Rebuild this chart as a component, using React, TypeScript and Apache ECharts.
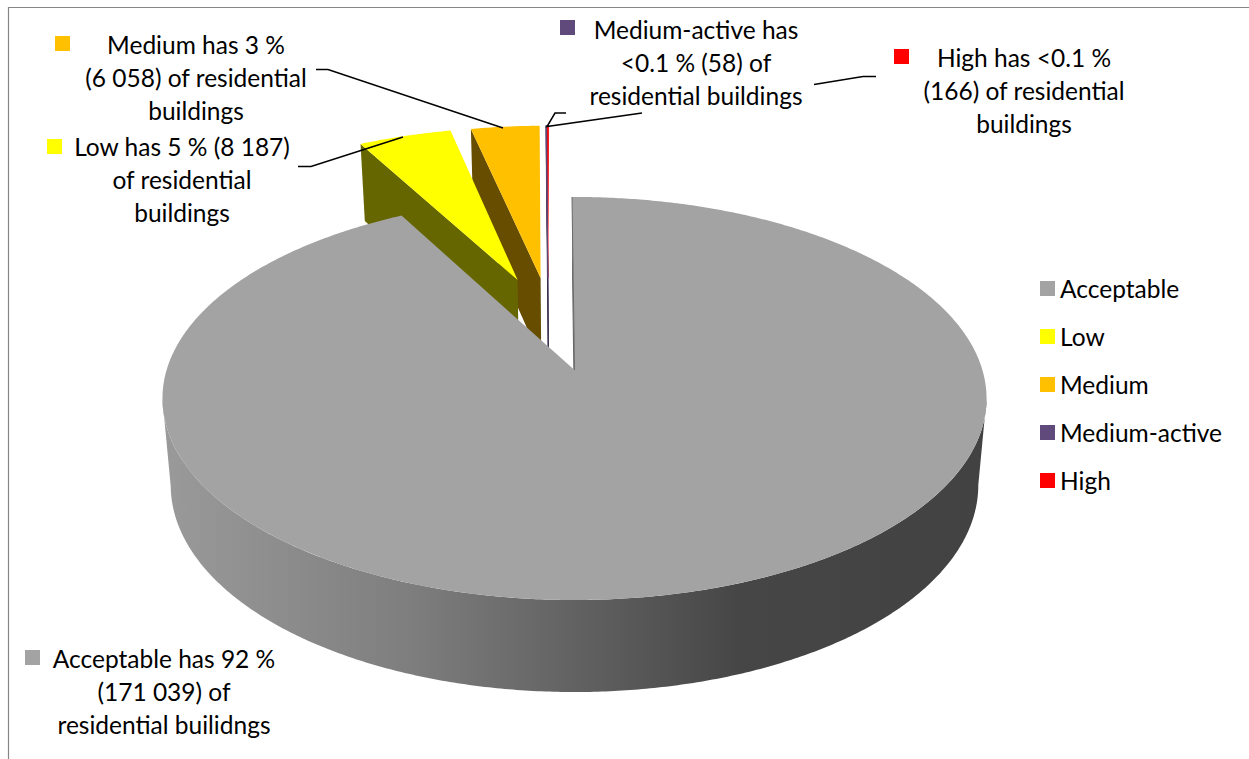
import React, { useEffect, useRef } from "react";
import * as echarts from "echarts";

const categories = ["Acceptable", "Low", "Medium", "Medium-active", "High"];
const buildings = [171039, 8187, 6058, 58, 166];
const faceColors = ["#A3A3A3", "#FFFF00", "#FFC000", "#604A7B", "#FF0000"];
const wallColors = ["#666666", "#666600", "#664D00", "#3A2C4A", "#4A3A5A"];
const explodeU = [0, -0.149, -0.089, -0.07, -0.07];
const explodeV = [0, 0.487, 0.499, 0.5, 0.5];

const labelLines = [
  ["Acceptable has 92 %", "(171 039) of", "residential builidngs"],
  ["Low has 5 % (8 187)", "of residential", "buildings"],
  ["Medium has 3 %", "(6 058) of residential", "buildings"],
  ["Medium-active has", "<0.1 % (58) of", "residential buildings"],
  ["High has <0.1 %", "(166) of residential", "buildings"],
];
const labelCenters = [[164, 658], [182, 146], [196, 44], [696, 29], [1024, 57]];
const keyCorners = [[25, 650], [47, 139], [55, 36], [560, 20], [894, 49]];
const leaders = [
  [[316, 69.5], [328, 69.5], [503, 128]],
  [[298, 166.5], [311, 166.5], [403, 137]],
  [[642, 113], [547, 126.5], [555, 113], [566, 113]],
  [[876, 76.5], [863, 76.5], [814, 84.5]],
];

const FONT = "Lato, 'Open Sans', sans-serif";
const cx = 574.5, cy = 370, A = 197.5, B = 407.9, C = 0.1414;
const ROT = -0.4;
const total = buildings.reduce((a, b) => a + b, 0);

function project(u: number, v: number) {
  const w = 1 + C * v;
  return [cx + (B * u) / w, cy - (A * v) / w];
}
function drop(u: number, v: number) {
  const [x, y] = project(u, v);
  return [cx + (x - cx) * 0.98, y + 85.7 - 6.3 * v];
}
function sliceRange(i: number) {
  let before = 0;
  for (let k = 0; k < i; k++) before += buildings[k];
  return [ROT + (before / total) * 360, ROT + ((before + buildings[i]) / total) * 360];
}
function rimPlane(i: number, deg: number) {
  const t = (deg * Math.PI) / 180;
  return [explodeU[i] + Math.sin(t), explodeV[i] + Math.cos(t)];
}

function renderSlice(i: number) {
  return () => {
    const [a0, a1] = sliceRange(i);
    const steps = Math.max(2, Math.ceil((a1 - a0) * 2));
    const rim: number[][] = [];
    for (let s = 0; s <= steps; s++) rim.push(rimPlane(i, a0 + ((a1 - a0) * s) / steps));
    const apex = [explodeU[i], explodeV[i]];
    const children: any[] = [];
    const thin = a1 - a0 < 1;
    const stroke = (c: string) => (thin ? { stroke: c, lineWidth: 0.8 } : {});
    if (i === 0) {
      // The visible outer wall runs between the two silhouette tangents of the rim.
      const tangent = (Math.acos(-C) * 180) / Math.PI;
      const front: number[][] = [];
      for (let d = tangent; d <= 360 - tangent; d += 0.5) front.push(rimPlane(i, d));
      const outer = [...front.map((p) => project(p[0], p[1])), ...front.slice().reverse().map((p) => drop(p[0], p[1]))];
      children.push({
        type: "polygon",
        shape: { points: outer },
        style: {
          fill: new echarts.graphic.LinearGradient(0, 0, 1, 0, [
            { offset: 0, color: "#9A9A9A" },
            { offset: 0.3, color: "#7E7E7E" },
            { offset: 0.5, color: "#626262" },
            { offset: 0.7, color: "#464646" },
            { offset: 1, color: "#424242" },
          ]),
        },
      });
    }
    const first = rim[0];
    children.push({
      type: "polygon",
      shape: { points: [project(first[0], first[1]), project(apex[0], apex[1]), drop(apex[0], apex[1]), drop(first[0], first[1])] },
      style: { fill: wallColors[i], ...stroke(wallColors[i]) },
    });
    children.push({
      type: "polygon",
      shape: { points: [project(apex[0], apex[1]), ...rim.map((p) => project(p[0], p[1]))] },
      style: { fill: faceColors[i], ...stroke(faceColors[i]) },
    });
    if (i === 0) {
      children.push({
        type: "polyline",
        shape: { points: [project(first[0], first[1]), project(apex[0], apex[1])] },
        style: { stroke: "#6A6A6A", lineWidth: 1, fill: "none" },
      });
    }
    return { type: "group", children };
  };
}

const drawOrder = [4, 3, 2, 1, 0];

export default function App() {
  const ref = useRef<HTMLDivElement>(null);
  useEffect(() => {
    document.body.style.margin = "0";
    const chart = echarts.init(ref.current!, undefined, { renderer: "svg" });
    const graphic: any[] = [
      {
        type: "polyline",
        z: 100,
        shape: { points: [[1249, 7.5], [8.5, 7.5], [8.5, 759]] },
        style: { stroke: "#868686", lineWidth: 1.2, fill: "none" },
      },
    ];
    leaders.forEach((pts) =>
      graphic.push({ type: "polyline", z: 100, shape: { points: pts }, style: { stroke: "#000", lineWidth: 1.5, fill: "none" } })
    );
    categories.forEach((_, i) => {
      graphic.push({
        type: "rect",
        z: 100,
        shape: { x: keyCorners[i][0], y: keyCorners[i][1], width: 15, height: 15 },
        style: { fill: faceColors[i] },
      });
      labelLines[i].forEach((line, j) =>
        graphic.push({
          type: "text",
          z: 100,
          x: labelCenters[i][0],
          y: labelCenters[i][1] + j * 33,
          style: { text: line, fill: "#000", font: `24.5px ${FONT}`, textAlign: "center", textVerticalAlign: "middle" },
        })
      );
    });
    chart.setOption({
      animation: false,
      backgroundColor: "#fff",
      legend: {
        show: true,
        orient: "vertical",
        left: 1035,
        top: 271,
        itemWidth: 15,
        itemHeight: 15,
        itemGap: 23,
        icon: "rect",
        selectedMode: false,
        data: categories,
        textStyle: { fontFamily: FONT, fontSize: 24.5, color: "#000", lineHeight: 24 },
      },
      graphic,
      series: drawOrder.map((i) => ({
        type: "custom",
        name: categories[i],
        coordinateSystem: "none",
        silent: true,
        itemStyle: { color: faceColors[i] },
        data: [buildings[i]],
        renderItem: renderSlice(i),
      })),
    });
    return () => chart.dispose();
  }, []);
  return <div ref={ref} style={{ width: 1249, height: 759, overflow: "hidden" }} />;
}
